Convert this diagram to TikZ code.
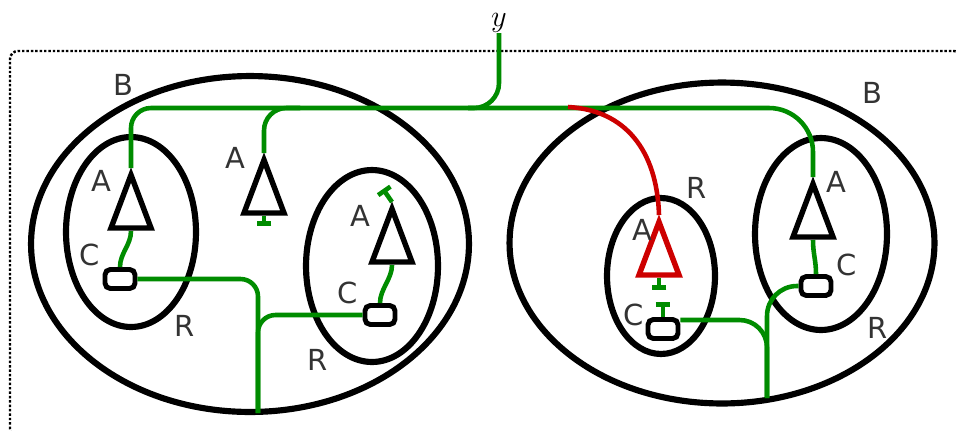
\documentclass[tikz,border=0pt]{standalone}
\usepackage{fontspec}
\setmainfont{DejaVu Sans}
\usetikzlibrary{arrows.meta}
\definecolor{wiregreen}{RGB}{0,140,0}
\definecolor{wirered}{RGB}{205,0,0}
\tikzset{
  frame/.style={line width=1.4pt, dash pattern=on 1.4pt off 1.1pt},
  blob/.style={line width=3.5pt},
  wire/.style={draw=wiregreen, line width=2.6pt},
  redwire/.style={draw=wirered, line width=2.6pt},
  cut/.style={wire, -{Bar[width=8.5pt]}},
  cbox/.style={draw, line width=2.8pt, rounded corners=3pt, minimum width=0.6cm,
    minimum height=0.38cm, inner sep=0pt},
  lbl/.style={text=black!80, font=\fontsize{16.5}{18}\selectfont, inner sep=0pt},
  amp/.pic={
    \draw[line width=3.1pt] (0,0) -- (20,53) -- (-20,53) -- cycle;
    \coordinate (-top) at (0,-7);
    \coordinate (-bot) at (0,56);
  }
}
\begin{document}
\begin{tikzpicture}[x=0.02cm, y=-0.02cm]
\useasboundingbox (0,0) rectangle (956,430);
\clip (0,0) rectangle (956,430);
% cornice
\draw[frame, rounded corners=0.16cm] (10,437) rectangle (962,51);
% bolle
\draw[blob] (250,244) ellipse [x radius=4.38cm, y radius=3.36cm];
\draw[blob] (131,232) ellipse [x radius=1.3cm, y radius=1.9cm];
\draw[blob] (372,266) ellipse [x radius=1.32cm, y radius=1.92cm];
\draw[blob] (722,243) ellipse [x radius=4.25cm, y radius=3.21cm];
\draw[blob] (661,276) ellipse [x radius=1.08cm, y radius=1.56cm];
\draw[blob] (821,234) ellipse [x radius=1.32cm, y radius=1.92cm];
% amplificatori
\pic (aL) at (131,175) {amp};
\pic (aM) at (264,160) {amp};
\pic (aLR) at (392,209) {amp};
\pic[color=wirered] (aRed) at (659,222) {amp};
\pic (aR) at (813,184) {amp};
% scatole
\node[cbox] (cL) at (120,279) {};
\node[cbox] (cLR) at (380,315) {};
\node[cbox] (cRed) at (663,329) {};
\node[cbox] (cR) at (816,286) {};
% etichette
\node[lbl] (bLeft) at (123,85) {B};
\node[lbl] (bRight) at (872,93) {B};
\node[lbl] (lA1) at (101,181) {A};
\node[lbl] (lA2) at (235,158) {A};
\node[lbl] (lA3) at (360,216) {A};
\node[lbl] (lA4) at (642,230) {A};
\node[lbl] (lA5) at (836,182) {A};
\node[lbl] (lC1) at (90,255) {C};
\node[lbl] (lC2) at (348,293) {C};
\node[lbl] (lC3) at (634,315) {C};
\node[lbl] (lC4) at (847,265) {C};
\node[lbl] (lR1) at (185,326) {R};
\node[lbl] (lR2) at (318,360) {R};
\node[lbl] (lR3) at (697,188) {R};
\node[lbl] (lR4) at (878,328) {R};
\node[anchor=south, inner sep=0pt, font=\fontsize{17}{18}\selectfont] (y) at (499,33) {$y$};
% fili
\coordinate (busM) at (300,108);
\coordinate (busR) at (468,108);
\coordinate (tap) at (568,107);
\coordinate (gndL) at (258,413);
\coordinate (gndR) at (767,398);
\draw[wire, rounded corners=0.5cm] (y.south) |- (busM);
\draw[wire, rounded corners=0.4cm] (busM) -| (aL-top);
\draw[wire, rounded corners=0.45cm] (busM) -| (aM-top);
\draw[wire, rounded corners=0.88cm] (busR) -| (aR-top);
\draw[redwire] (tap) .. controls (625,110) and (657,150) .. (aRed-top);
\draw[wire] (aL-bot) .. controls +(0,14) and +(0,-14) .. (cL.north);
\draw[wire] (aLR-bot) .. controls +(0,14) and +(0,-14) .. (cLR.north);
\draw[wire] (aR-bot) .. controls +(0,14) and +(0,-14) .. (cR.north);
\draw[cut] (aM-bot) -- ++(0,10);
\draw[cut] (aLR-top) -- ++(-9,-13);
\draw[cut] (aRed-bot) -- ++(0,12);
\draw[cut] (cRed.north) -- ++(0,-15);
\draw[wire, rounded corners=0.35cm] (cL.east) -| (gndL);
\draw[wire, rounded corners=0.35cm] (cLR.west) -| (gndL);
\draw[wire, rounded corners=0.55cm] ([yshift=0.18cm]cRed.east) -| (gndR);
\draw[wire, rounded corners=0.6cm] (cR.west) -| (gndR);
\end{tikzpicture}
\end{document}
